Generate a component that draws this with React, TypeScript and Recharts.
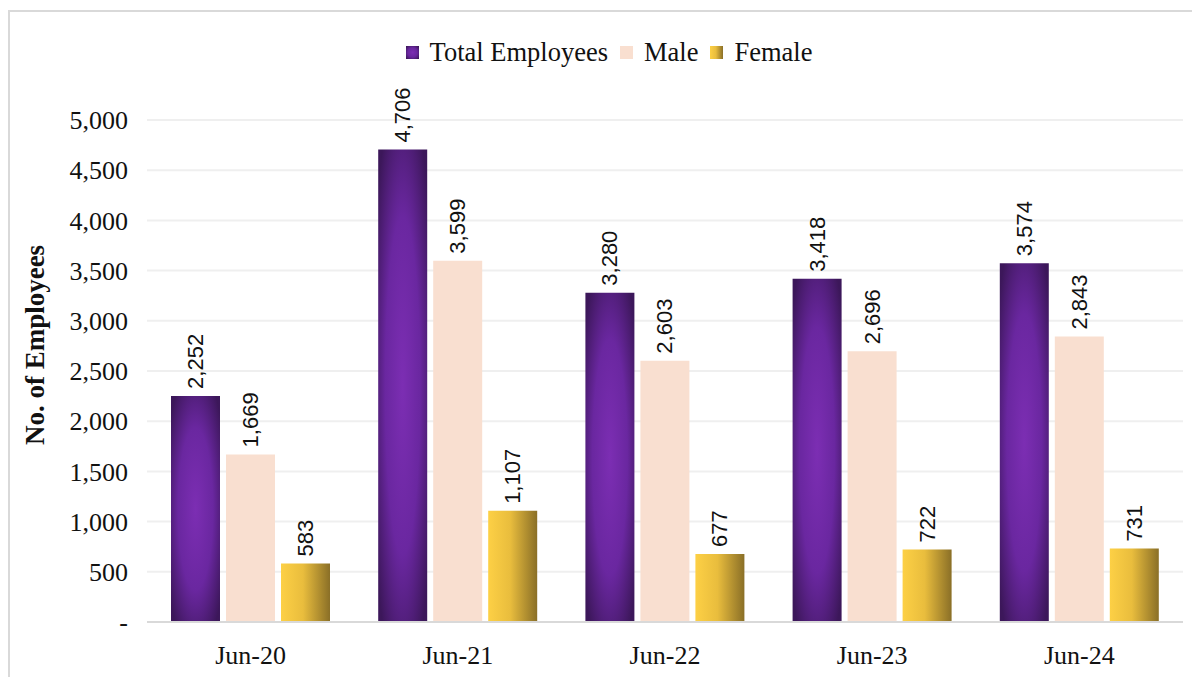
import { Bar, BarChart, CartesianGrid, LabelList, Legend, XAxis, YAxis } from "recharts";

const periods = ["Jun-20", "Jun-21", "Jun-22", "Jun-23", "Jun-24"];
const totalEmployees = [2252, 4706, 3280, 3418, 3574];
const maleEmployees = [1669, 3599, 2603, 2696, 2843];
const femaleEmployees = [583, 1107, 677, 722, 731];
const yTicks = [0, 500, 1000, 1500, 2000, 2500, 3000, 3500, 4000, 4500, 5000];

const SERIF = "'Liberation Serif', 'Times New Roman', serif";
const SANS = "'Liberation Sans', Arial, sans-serif";

const chartData = periods.map((p, i) => ({
  period: p,
  total: totalEmployees[i],
  male: maleEmployees[i],
  female: femaleEmployees[i],
}));

const legendItems = [
  { label: "Total Employees", fill: "url(#purpleGrad)" },
  { label: "Male", fill: "#f9dfd0" },
  { label: "Female", fill: "url(#goldGrad)" },
];

function ChartLegend() {
  return (
    <div
      style={{
        display: "flex",
        justifyContent: "center",
        alignItems: "center",
        height: 40,
        fontFamily: SERIF,
        fontSize: 26.5,
        color: "#111",
        paddingLeft: 8,
      }}
    >
      {legendItems.map((item, i) => (
        <span
          key={item.label}
          style={{ display: "flex", alignItems: "center", marginLeft: i === 0 ? 0 : 12 }}
        >
          <svg width={13} height={13} style={{ marginRight: 11 }}>
            <rect width={13} height={13} fill={item.fill} />
          </svg>
          {item.label}
        </span>
      ))}
    </div>
  );
}

function RotatedLabel(props: any) {
  const { x, y, width, value } = props;
  const cx = x + width / 2;
  const cy = y - 7;
  return (
    <text
      x={cx}
      y={cy}
      transform={`rotate(-90, ${cx}, ${cy})`}
      textAnchor="start"
      dominantBaseline="central"
      fontFamily={SANS}
      fontSize={22}
      fill="#111"
    >
      {Number(value).toLocaleString("en-US")}
    </text>
  );
}

function YTitle(props: any) {
  const { viewBox } = props;
  const cx = 25;
  const cy = viewBox.y + viewBox.height / 2 - 26;
  return (
    <text
      x={cx}
      y={cy}
      transform={`rotate(-90, ${cx}, ${cy})`}
      textAnchor="middle"
      dominantBaseline="central"
      fontFamily={SERIF}
      fontSize={27}
      fontWeight="bold"
      fill="#111"
    >
      No. of Employees
    </text>
  );
}

export default function App() {
  return (
    <div style={{ paddingTop: 2 }}>
      <div
        style={{
          borderTop: "2px solid #d9d9d9",
          borderLeft: "2px solid #d9d9d9",
          width: 1190,
          height: 667,
          boxSizing: "border-box",
          position: "relative",
          overflow: "hidden",
        }}
      >
        <BarChart
          width={1190}
          height={664}
          data={chartData}
          margin={{ top: 68, right: 17, left: 0, bottom: 0 }}
          barCategoryGap={24}
          barGap={6}
        >
          <defs>
            <radialGradient id="purpleGrad" cx="50%" cy="50%" r="65%">
              <stop offset="0%" stopColor="#7c2eb3" />
              <stop offset="55%" stopColor="#6a27a0" />
              <stop offset="100%" stopColor="#3c175a" />
            </radialGradient>
            <linearGradient id="goldGrad" x1="0" y1="0" x2="1" y2="0">
              <stop offset="0%" stopColor="#fdd045" />
              <stop offset="45%" stopColor="#e9bd3d" />
              <stop offset="100%" stopColor="#8a6f27" />
            </linearGradient>
          </defs>
          <CartesianGrid vertical={false} stroke="#efefef" strokeWidth={2} />
          <Legend
            verticalAlign="top"
            content={<ChartLegend />}
            wrapperStyle={{ top: 20, height: 40, left: 0, width: 1190 }}
          />
          <XAxis
            dataKey="period"
            height={54}
            axisLine={{ stroke: "#d9d9d9", strokeWidth: 2 }}
            tickLine={false}
            tickMargin={18}
            tick={{ fontFamily: SERIF, fontSize: 26, fill: "#111" }}
          />
          <YAxis
            width={137}
            domain={[0, 5000]}
            ticks={yTicks}
            interval={0}
            axisLine={false}
            tickLine={false}
            tickMargin={13}
            tick={{ fontFamily: SERIF, fontSize: 26, fill: "#111" }}
            tickFormatter={(v: number) => (v === 0 ? "-" : v.toLocaleString("en-US"))}
            label={<YTitle />}
          />
          <Bar dataKey="total" name="Total Employees" fill="url(#purpleGrad)" isAnimationActive={false}>
            <LabelList dataKey="total" content={<RotatedLabel />} />
          </Bar>
          <Bar dataKey="male" name="Male" fill="#f9dfd0" isAnimationActive={false}>
            <LabelList dataKey="male" content={<RotatedLabel />} />
          </Bar>
          <Bar dataKey="female" name="Female" fill="url(#goldGrad)" isAnimationActive={false}>
            <LabelList dataKey="female" content={<RotatedLabel />} />
          </Bar>
        </BarChart>
      </div>
    </div>
  );
}
